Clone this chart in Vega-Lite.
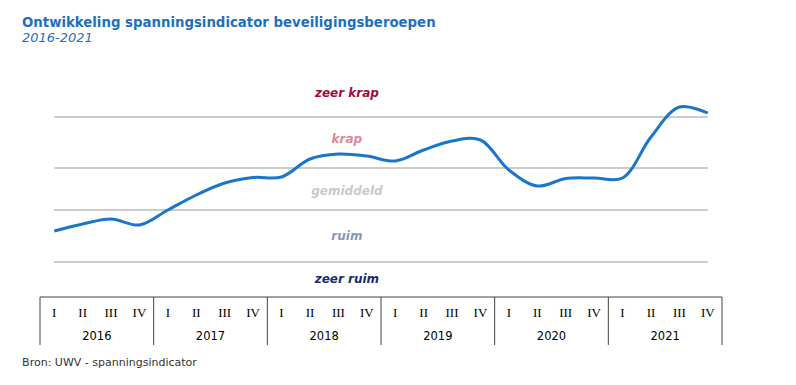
{
  "$schema": "https://vega.github.io/schema/vega-lite/v6.json",
  "autosize": {"type": "none"},
  "width": 682,
  "height": 270,
  "padding": {"left": 40, "top": 80, "right": 74, "bottom": 35},
  "background": "white",
  "title": {
    "text": "Ontwikkeling spanningsindicator beveiligingsberoepen",
    "subtitle": "2016-2021",
    "anchor": "start",
    "frame": "group",
    "dx": -18,
    "offset": 35,
    "font": "DejaVu Sans",
    "fontSize": 13.3,
    "fontWeight": "bold",
    "color": "#1F6FBF",
    "subtitleFont": "DejaVu Sans",
    "subtitleFontSize": 13,
    "subtitleFontStyle": "italic",
    "subtitleColor": "#1F6FBF",
    "subtitlePadding": 3
  },
  "config": {"view": {"stroke": null}},
  "datasets": {
    "reeks": [
      {"q": 0, "kwartaal": "I", "jaar": 2016, "waarde": 3.1},
      {"q": 1, "kwartaal": "II", "jaar": 2016, "waarde": 3.8},
      {"q": 2, "kwartaal": "III", "jaar": 2016, "waarde": 4.3},
      {"q": 3, "kwartaal": "IV", "jaar": 2016, "waarde": 3.7},
      {"q": 4, "kwartaal": "I", "jaar": 2017, "waarde": 5.2},
      {"q": 5, "kwartaal": "II", "jaar": 2017, "waarde": 6.7},
      {"q": 6, "kwartaal": "III", "jaar": 2017, "waarde": 7.9},
      {"q": 7, "kwartaal": "IV", "jaar": 2017, "waarde": 8.45},
      {"q": 8, "kwartaal": "I", "jaar": 2018, "waarde": 8.5},
      {"q": 9, "kwartaal": "II", "jaar": 2018, "waarde": 10.3},
      {"q": 10, "kwartaal": "III", "jaar": 2018, "waarde": 10.8},
      {"q": 11, "kwartaal": "IV", "jaar": 2018, "waarde": 10.6},
      {"q": 12, "kwartaal": "I", "jaar": 2019, "waarde": 10.1},
      {"q": 13, "kwartaal": "II", "jaar": 2019, "waarde": 11.2},
      {"q": 14, "kwartaal": "III", "jaar": 2019, "waarde": 12.1},
      {"q": 15, "kwartaal": "IV", "jaar": 2019, "waarde": 12.2},
      {"q": 16, "kwartaal": "I", "jaar": 2020, "waarde": 9.2},
      {"q": 17, "kwartaal": "II", "jaar": 2020, "waarde": 7.6},
      {"q": 18, "kwartaal": "III", "jaar": 2020, "waarde": 8.35},
      {"q": 19, "kwartaal": "IV", "jaar": 2020, "waarde": 8.4},
      {"q": 20, "kwartaal": "I", "jaar": 2021, "waarde": 8.4},
      {"q": 21, "kwartaal": "II", "jaar": 2021, "waarde": 12.5},
      {"q": 22, "kwartaal": "III", "jaar": 2021, "waarde": 15.5},
      {"q": 23, "kwartaal": "IV", "jaar": 2021, "waarde": 14.9}
    ],
    "grenzen": [{"grens": 0}, {"grens": 5.2}, {"grens": 9.4}, {"grens": 14.5}],
    "categorieen": [
      {"categorie": "zeer krap", "niveau": 16.9},
      {"categorie": "krap", "niveau": 12.3},
      {"categorie": "gemiddeld", "niveau": 7.1},
      {"categorie": "ruim", "niveau": 2.6},
      {"categorie": "zeer ruim", "niveau": -1.7}
    ],
    "scheidingen": [{"s": -0.5}, {"s": 3.5}, {"s": 7.5}, {"s": 11.5}, {"s": 15.5}, {"s": 19.5}, {"s": 23.5}],
    "jaren": [
      {"jaar": "2016", "midden": 1.5},
      {"jaar": "2017", "midden": 5.5},
      {"jaar": "2018", "midden": 9.5},
      {"jaar": "2019", "midden": 13.5},
      {"jaar": "2020", "midden": 17.5},
      {"jaar": "2021", "midden": 21.5}
    ]
  },
  "layer": [
    {
      "data": {"name": "grenzen"},
      "mark": {"type": "rule", "color": "#CCCCCC", "strokeWidth": 2},
      "encoding": {
        "x": {"datum": 0, "type": "quantitative", "scale": {"domain": [-0.5, 23.5], "nice": false, "zero": false}, "axis": null},
        "x2": {"datum": 23},
        "y": {"field": "grens", "type": "quantitative", "scale": {"domain": [-8.8, 18.2], "nice": false, "zero": false}, "axis": null}
      }
    },
    {
      "data": {"name": "categorieen"},
      "mark": {"type": "text", "font": "DejaVu Sans", "fontSize": 12, "fontWeight": "bold", "fontStyle": "italic", "align": "center", "baseline": "middle"},
      "encoding": {
        "x": {"datum": 10.3, "type": "quantitative", "scale": {"domain": [-0.5, 23.5], "nice": false, "zero": false}, "axis": null},
        "y": {"field": "niveau", "type": "quantitative", "scale": {"domain": [-8.8, 18.2], "nice": false, "zero": false}, "axis": null},
        "text": {"field": "categorie"},
        "color": {"field": "categorie", "type": "nominal", "legend": null,
          "scale": {"domain": ["zeer krap", "krap", "gemiddeld", "ruim", "zeer ruim"], "range": ["#A30A38", "#E08898", "#C9C9C9", "#8797BA", "#1C2D66"]}}
      }
    },
    {
      "data": {"name": "reeks"},
      "mark": {"type": "line", "interpolate": "catmull-rom", "color": "#1B75C9", "strokeWidth": 3},
      "encoding": {
        "x": {"field": "q", "type": "quantitative", "scale": {"domain": [-0.5, 23.5], "nice": false, "zero": false}, "axis": null},
        "y": {"field": "waarde", "type": "quantitative", "scale": {"domain": [-8.8, 18.2], "nice": false, "zero": false}, "axis": null}
      }
    },
    {
      "data": {"values": [{}]},
      "mark": {"type": "rule", "color": "#444444", "strokeWidth": 1},
      "encoding": {
        "x": {"datum": -0.5, "type": "quantitative", "scale": {"domain": [-0.5, 23.5], "nice": false, "zero": false}, "axis": null},
        "x2": {"datum": 23.5},
        "y": {"datum": -3.5, "type": "quantitative", "scale": {"domain": [-8.8, 18.2], "nice": false, "zero": false}, "axis": null}
      }
    },
    {
      "data": {"name": "scheidingen"},
      "mark": {"type": "rule", "color": "#444444", "strokeWidth": 1},
      "encoding": {
        "x": {"field": "s", "type": "quantitative", "scale": {"domain": [-0.5, 23.5], "nice": false, "zero": false}, "axis": null},
        "y": {"datum": -3.5, "type": "quantitative", "scale": {"domain": [-8.8, 18.2], "nice": false, "zero": false}, "axis": null},
        "y2": {"datum": -8.3}
      }
    },
    {
      "data": {"name": "reeks"},
      "mark": {"type": "text", "font": "Liberation Serif", "fontSize": 13, "color": "#000000", "baseline": "middle"},
      "encoding": {
        "x": {"field": "q", "type": "quantitative", "scale": {"domain": [-0.5, 23.5], "nice": false, "zero": false}, "axis": null},
        "y": {"datum": -5.1, "type": "quantitative", "scale": {"domain": [-8.8, 18.2], "nice": false, "zero": false}, "axis": null},
        "text": {"field": "kwartaal"}
      }
    },
    {
      "data": {"name": "jaren"},
      "mark": {"type": "text", "font": "DejaVu Sans", "fontSize": 11.5, "color": "#000000", "baseline": "middle"},
      "encoding": {
        "x": {"field": "midden", "type": "quantitative", "scale": {"domain": [-0.5, 23.5], "nice": false, "zero": false}, "axis": null},
        "y": {"datum": -7.5, "type": "quantitative", "scale": {"domain": [-8.8, 18.2], "nice": false, "zero": false}, "axis": null},
        "text": {"field": "jaar"}
      }
    },
    {
      "data": {"values": [{"bron": "Bron: UWV - spanningsindicator"}]},
      "mark": {"type": "text", "font": "DejaVu Sans", "fontSize": 11, "color": "#333333", "align": "left", "baseline": "middle"},
      "encoding": {
        "x": {"datum": -1.13, "type": "quantitative", "scale": {"domain": [-0.5, 23.5], "nice": false, "zero": false}, "axis": null},
        "y": {"datum": -10.1, "type": "quantitative", "scale": {"domain": [-8.8, 18.2], "nice": false, "zero": false}, "axis": null},
        "text": {"field": "bron"}
      }
    }
  ]
}
